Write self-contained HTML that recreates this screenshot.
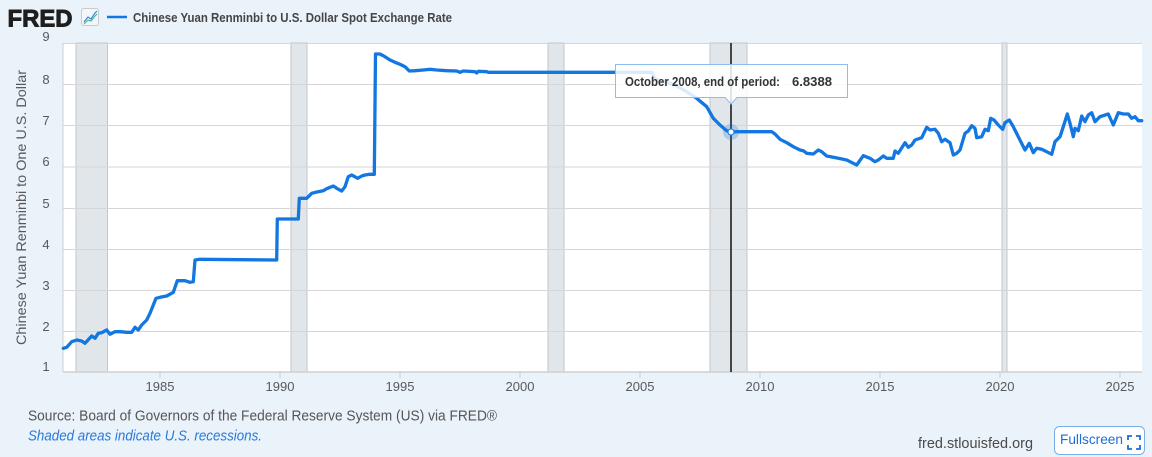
<!DOCTYPE html>
<html><head><meta charset="utf-8"><style>
html,body{margin:0;padding:0;background:#eaf2fa;}
svg{display:block;font-family:"Liberation Sans",Arial,sans-serif;}
</style></head><body>
<svg width="1152" height="457" viewBox="0 0 1152 457" xmlns="http://www.w3.org/2000/svg">
<rect x="0" y="0" width="1152" height="457" fill="#eaf2fa"/>
<!-- header -->
<text x="7.5" y="26.5" font-size="24" font-weight="bold" fill="#1e1e1e" stroke="#1e1e1e" stroke-width="0.9" textLength="65" lengthAdjust="spacingAndGlyphs">FRED</text>
<rect x="81.5" y="8.5" width="17" height="17" rx="2" fill="#f3f6f9" stroke="#c8ccd0"/>
<polyline points="84,22 88,17 91,19 95,13 97,11" fill="none" stroke="#3a86e0" stroke-width="1.2"/>
<polyline points="84,24 88,20 91,21 95,16 97,14" fill="none" stroke="#4cb89a" stroke-width="1.2"/>
<line x1="107" y1="17" x2="127" y2="17" stroke="#1277e1" stroke-width="2.5"/>
<text x="133" y="22" font-size="13" font-weight="bold" fill="#454545" textLength="319" lengthAdjust="spacingAndGlyphs">Chinese Yuan Renminbi to U.S. Dollar Spot Exchange Rate</text>

<!-- plot area -->
<rect x="63" y="43" width="1079" height="329" fill="#ffffff"/>
<!-- recessions -->
<g fill="#e1e6eb" stroke="#c2c6ca" stroke-width="1">
<rect x="76" y="43" width="31.5" height="329"/>
<rect x="291" y="43" width="16" height="329"/>
<rect x="548" y="43" width="16" height="329"/>
<rect x="710" y="43" width="37" height="329"/>
<rect x="1002" y="43" width="5" height="329"/>
</g>
<!-- gridlines -->
<g stroke="#d6d6d6" stroke-width="1">
<line x1="63" y1="43.5" x2="1142" y2="43.5"/>
<line x1="63" y1="84.5" x2="1142" y2="84.5"/>
<line x1="63" y1="125.5" x2="1142" y2="125.5"/>
<line x1="63" y1="167" x2="1142" y2="167"/>
<line x1="63" y1="208.5" x2="1142" y2="208.5"/>
<line x1="63" y1="249.5" x2="1142" y2="249.5"/>
<line x1="63" y1="290.5" x2="1142" y2="290.5"/>
<line x1="63" y1="331.5" x2="1142" y2="331.5"/>
</g>
<line x1="63" y1="372" x2="1142" y2="372" stroke="#cfcfcf" stroke-width="1.5"/>
<line x1="63" y1="43" x2="63" y2="372" stroke="#cfcfcf" stroke-width="1"/>
<!-- x ticks -->
<g stroke="#cfcfcf" stroke-width="1">
<line x1="160" y1="372" x2="160" y2="378"/>
<line x1="280" y1="372" x2="280" y2="378"/>
<line x1="400" y1="372" x2="400" y2="378"/>
<line x1="520" y1="372" x2="520" y2="378"/>
<line x1="640" y1="372" x2="640" y2="378"/>
<line x1="760" y1="372" x2="760" y2="378"/>
<line x1="880" y1="372" x2="880" y2="378"/>
<line x1="1000" y1="372" x2="1000" y2="378"/>
<line x1="1120" y1="372" x2="1120" y2="378"/>
</g>
<!-- y labels -->
<g font-size="13" fill="#595959" text-anchor="middle">
<text x="46" y="41">9</text>
<text x="46" y="84">8</text>
<text x="46" y="125">7</text>
<text x="46" y="166">6</text>
<text x="46" y="208">5</text>
<text x="46" y="249">4</text>
<text x="46" y="290">3</text>
<text x="46" y="331">2</text>
<text x="46" y="371">1</text>
</g>
<!-- x labels -->
<g font-size="13" fill="#595959" text-anchor="middle">
<text x="160" y="391">1985</text>
<text x="280" y="391">1990</text>
<text x="400" y="391">1995</text>
<text x="520" y="391">2000</text>
<text x="640" y="391">2005</text>
<text x="760" y="391">2010</text>
<text x="880" y="391">2015</text>
<text x="1000" y="391">2020</text>
<text x="1120" y="391">2025</text>
</g>
<!-- axis title -->
<text transform="translate(26,207.5) rotate(-90)" font-size="14" fill="#595959" text-anchor="middle" textLength="275" lengthAdjust="spacingAndGlyphs">Chinese Yuan Renminbi to One U.S. Dollar</text>

<!-- vertical hover line -->
<line x1="731" y1="43" x2="731" y2="372" stroke="#111" stroke-width="1.5"/>

<!-- series -->
<polyline fill="none" stroke="#1277e1" stroke-width="3.3" stroke-linejoin="round" stroke-linecap="round" points="63.3,348.3 66.7,347.3 71.7,341.7 76.7,340 81.7,341 85,343.3 91.7,336 95,338.3 98.3,333.3 101.7,332.7 106.7,330 110,334.3 115,331.7 120,331.7 126.7,332.3 131.7,332.3 135,327.3 138.3,330 141.7,325 146.7,320 150,313.3 156,298.3 160,297.3 166.7,296 173.3,292.3 177.3,280.7 185,280.7 190,282.3 193.3,281.7 195,260 200,259.3 276.7,260 277.3,219 298.3,219 299.3,198.3 306.7,198.3 311.7,193.3 316.7,192 323.3,190.7 326.7,188.7 333.3,186 336.7,188.3 341.7,191 345,186.7 348.3,176.7 351.7,175 357.7,178.3 361.7,176 365,175 370,174.3 374.3,174.3 375.5,54 380,54 385,56.7 390,60 395,62.3 400,64.3 405,66.7 409.3,71 415,70.7 423.3,70 430,69.3 436.7,70 446.7,70.7 456.7,71 460,72.3 463.3,71 475,71.7 476.7,73 478.3,71.3 486.7,71.7 488.3,72.3 652,72.3 655,79 665,82 675,85 686.7,91.7 696.7,98.3 706.7,106.7 713.3,118.3 720,125 726.7,130.7 730.7,132 736.7,131.7 771.7,131.7 775,134 780,139.3 786.7,142.7 793.3,146.7 800,150 803.3,150.7 806.7,153.3 813.3,154 818.3,150 821.7,151.7 826.7,156 833.3,157.3 838.3,158.3 846.7,160 853.3,163.3 856.7,165 863.3,155.7 870,158.3 875,161.7 878.3,160 883.3,156 886.7,158.3 893.3,158.3 895,151 898.3,153.3 905,142.7 908.3,147.3 911.7,145 915,140 921.7,137.7 926.7,127.3 930,130 935,129.3 938.3,133.3 941.7,141.7 945,139.3 950,142.7 953.3,155 956.7,153.3 960,150 965,133.3 968.3,131 971.7,125.7 975,128.3 976.7,137.7 981.7,136.7 985,129.3 988.3,130.7 990.7,118.3 994,120 998.3,125 1002.7,129.3 1005,122.7 1009.3,120 1013.3,126.7 1018.3,136.7 1025,150 1029.3,143.3 1033.3,152.7 1036.7,148.3 1041.7,149.3 1046.7,151.7 1051.7,154.3 1055,141.7 1060,136.7 1063.3,126.7 1067.3,114 1070,123.3 1073.3,136.7 1075,128.3 1078.3,130.7 1081.7,116 1085,121.7 1088.3,115 1091.7,112.7 1095,121.7 1100,116.7 1108.3,114 1113.3,125 1118.3,112.7 1123.3,114 1128.3,114 1131.7,118.3 1135,116.7 1138.3,120.7 1141.7,120.7"/>

<!-- hover marker -->
<circle cx="731" cy="132" r="8" fill="#1277e1" fill-opacity="0.25"/>
<circle cx="731" cy="132" r="3" fill="#ffffff" stroke="#1277e1" stroke-width="1"/>

<!-- tooltip -->
<path d="M615.5,64.5 H847.5 V97.5 H737 L731,104 L725,97.5 H615.5 Z" fill="#ffffff" fill-opacity="0.85" stroke="#8dbcf0" stroke-width="1"/>
<text x="625" y="86" font-size="13" font-weight="bold" fill="#333333" textLength="155" lengthAdjust="spacingAndGlyphs">October 2008, end of period:</text>
<text x="792" y="86" font-size="13" font-weight="bold" fill="#333333" textLength="40" lengthAdjust="spacingAndGlyphs">6.8388</text>

<!-- footer -->
<text x="28" y="420.5" font-size="14.5" fill="#555555" textLength="469" lengthAdjust="spacingAndGlyphs">Source: Board of Governors of the Federal Reserve System (US) via FRED®</text>
<text x="28" y="440.5" font-size="14.5" font-style="italic" fill="#2a7ad8" textLength="234" lengthAdjust="spacingAndGlyphs">Shaded areas indicate U.S. recessions.</text>
<text x="918" y="448" font-size="14.5" fill="#4a4a4a" textLength="115" lengthAdjust="spacingAndGlyphs">fred.stlouisfed.org</text>
<rect x="1054.5" y="426.5" width="90" height="28" rx="5" fill="#ffffff" stroke="#7aaeea" stroke-width="1"/>
<text x="1060" y="444" font-size="14" fill="#1a6fd8" textLength="63" lengthAdjust="spacingAndGlyphs">Fullscreen</text>
<g fill="none" stroke="#1a6fd8" stroke-width="1.8">
<polyline points="1128,440 1128,436 1132,436"/>
<polyline points="1136,436 1140,436 1140,440"/>
<polyline points="1128,445 1128,449 1132,449"/>
<polyline points="1136,449 1140,449 1140,445"/>
</g>
</svg>
</body></html>
